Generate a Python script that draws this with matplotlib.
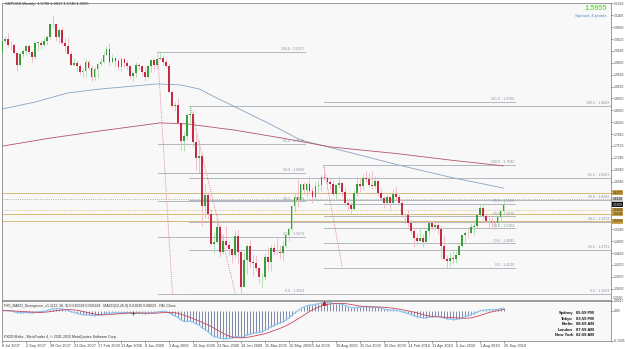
import matplotlib
matplotlib.use("Agg")
import matplotlib.pyplot as plt
import numpy as np
import pandas as pd
from matplotlib.patches import Rectangle

plt.rcParams['font.family'] = ['Liberation Sans', 'DejaVu Sans']

title_text = "GBPUSD,Weekly  1.5790 1.6017 1.5748 1.5955"
date_labels = ["8 Jul 2007", "2 Sep 2007", "28 Oct 2007", "23 Dec 2007", "17 Feb 2008",
               "13 Apr 2008", "8 Jun 2008", "3 Aug 2008", "28 Sep 2008", "23 Nov 2008",
               "18 Jan 2009", "15 Mar 2009", "10 May 2009", "5 Jul 2009", "30 Aug 2009",
               "25 Oct 2009", "20 Dec 2009", "14 Feb 2010", "11 Apr 2010", "6 Jun 2010",
               "1 Aug 2010", "26 Sep 2010"]
date_weeks = [0, 8, 16, 24, 32, 40, 48, 56, 64, 72, 80, 88, 96, 104, 112, 120, 128, 136, 144, 152, 160, 168]

opens = [2.0130, 2.0445, 2.0500, 2.0330, 2.0340, 2.0130, 1.9790, 2.0100, 2.0180, 2.0300,
         2.0140, 2.0000, 2.0400, 2.0400, 2.0350, 2.0450, 2.0550, 2.0900, 2.0910, 2.0560,
         2.0750, 2.0400, 2.0300, 2.0100, 1.9800, 1.9850, 1.9750, 1.9600, 1.9610, 1.9880,
         1.9700, 1.9470, 1.9670, 1.9810, 1.9860, 2.0070, 2.0240, 1.9880, 1.9990, 1.9900,
         1.9720, 1.9960, 1.9850, 1.9760, 1.9500, 1.9560, 1.9800, 1.9760, 1.9600, 1.9450,
         1.9760, 1.9930, 1.9790, 1.9950, 1.9980, 1.9880, 1.9770, 1.9040, 1.8650, 1.8690,
         1.8190, 1.7710, 1.7830, 1.8420, 1.8440, 1.7670, 1.7230, 1.7290, 1.5930, 1.6230,
         1.5700, 1.4880, 1.4940, 1.5340, 1.4650, 1.4960, 1.4850, 1.4750, 1.4560, 1.5090,
         1.4650, 1.3700, 1.4430, 1.4810, 1.4380, 1.4360, 1.4220, 1.3960, 1.3980, 1.4530,
         1.4380, 1.4770, 1.4660, 1.4650, 1.4630, 1.4820, 1.5130, 1.5290, 1.5910, 1.6170,
         1.6080, 1.6510, 1.6350, 1.6510, 1.6320, 1.6170, 1.6470, 1.6500, 1.6720, 1.6690,
         1.6570, 1.6520, 1.6240, 1.6490, 1.6560, 1.6310, 1.6010, 1.5940, 1.5830, 1.6280,
         1.6530, 1.6470, 1.6690, 1.6660, 1.6500, 1.6470, 1.6600, 1.6270, 1.6130, 1.5990,
         1.6160, 1.6000, 1.6260, 1.6170, 1.6000, 1.5660, 1.5680, 1.5450, 1.5230, 1.5050,
         1.4960, 1.5050, 1.4940, 1.5240, 1.5440, 1.5340, 1.5400, 1.5280, 1.4830, 1.4470,
         1.4400, 1.4500, 1.4450, 1.4560, 1.4820, 1.5110, 1.5180, 1.5170, 1.5330, 1.5370,
         1.5680, 1.5850, 1.5630, 1.5520, 1.5510, 1.5480, 1.5450, 1.5620, 1.5790]
highs = [2.0470, 2.0560, 2.0655, 2.0440, 2.0400, 2.0150, 2.0150, 2.0240, 2.0350, 2.0370,
         2.0180, 2.0420, 2.0460, 2.0480, 2.0520, 2.0600, 2.0930, 2.1161, 2.0950, 2.0800,
         2.0840, 2.0520, 2.0550, 2.0160, 1.9980, 1.9920, 1.9820, 1.9700, 1.9950, 1.9960,
         1.9780, 1.9720, 1.9830, 1.9980, 2.0170, 2.0310, 2.0400, 2.0090, 2.0000, 1.9990,
         2.0000, 2.0000, 1.9920, 1.9780, 1.9600, 1.9860, 1.9850, 1.9790, 1.9770, 1.9800,
         1.9960, 1.9980, 1.9960, 2.0157, 2.0050, 1.9990, 1.9850, 1.9080, 1.8780, 1.8880,
         1.8230, 1.7960, 1.8430, 1.8662, 1.8560, 1.7890, 1.7740, 1.7360, 1.6520, 1.6300,
         1.5840, 1.5180, 1.5590, 1.5400, 1.5150, 1.5380, 1.4970, 1.4760, 1.5250, 1.5280,
         1.4720, 1.4660, 1.4870, 1.4990, 1.4560, 1.4570, 1.4280, 1.4090, 1.4640, 1.4780,
         1.4860, 1.4870, 1.5050, 1.4840, 1.4950, 1.5190, 1.5330, 1.5950, 1.6260, 1.6660,
         1.6530, 1.6580, 1.6590, 1.6740, 1.6440, 1.6580, 1.6630, 1.6760, 1.7043, 1.6740,
         1.6680, 1.6620, 1.6510, 1.6740, 1.6590, 1.6440, 1.6080, 1.6060, 1.6370, 1.6740,
         1.6710, 1.6790, 1.6880, 1.6820, 1.6880, 1.6740, 1.6640, 1.6400, 1.6200, 1.6230,
         1.6160, 1.6390, 1.6460, 1.6260, 1.6110, 1.5700, 1.5820, 1.5560, 1.5350, 1.5160,
         1.5300, 1.5140, 1.5280, 1.5470, 1.5500, 1.5450, 1.5480, 1.5390, 1.5120, 1.4580,
         1.4650, 1.4730, 1.4680, 1.4880, 1.5130, 1.5230, 1.5300, 1.5440, 1.5500, 1.5700,
         1.5960, 1.5950, 1.5720, 1.5610, 1.5610, 1.5540, 1.5650, 1.5810, 1.6017]
lows = [2.0110, 2.0380, 2.0280, 2.0200, 2.0100, 1.9620, 1.9760, 2.0000, 2.0060, 2.0080,
        1.9880, 1.9960, 2.0160, 2.0240, 2.0280, 2.0330, 2.0500, 2.0800, 2.0450, 2.0400,
        2.0350, 2.0150, 2.0100, 1.9760, 1.9750, 1.9600, 1.9520, 1.9450, 1.9450, 1.9650,
        1.9340, 1.9380, 1.9440, 1.9750, 1.9850, 2.0050, 1.9800, 1.9840, 1.9740, 1.9640,
        1.9600, 1.9710, 1.9650, 1.9400, 1.9340, 1.9460, 1.9650, 1.9490, 1.9360, 1.9440,
        1.9600, 1.9660, 1.9670, 1.9940, 1.9790, 1.9720, 1.9020, 1.8600, 1.8530, 1.8150,
        1.7450, 1.7440, 1.7740, 1.8130, 1.7530, 1.6900, 1.6830, 1.5360, 1.5600, 1.5550,
        1.4850, 1.4640, 1.4930, 1.4530, 1.4600, 1.4800, 1.4570, 1.4360, 1.4480, 1.4320,
        1.3503, 1.3700, 1.4060, 1.4230, 1.4000, 1.4130, 1.3810, 1.3660, 1.3880, 1.4140,
        1.4140, 1.4560, 1.4600, 1.4470, 1.4410, 1.4760, 1.4960, 1.5250, 1.5750, 1.5890,
        1.6040, 1.6250, 1.6200, 1.6300, 1.6000, 1.6100, 1.6270, 1.6340, 1.6640, 1.6380,
        1.6380, 1.6200, 1.6080, 1.6410, 1.6200, 1.5930, 1.5820, 1.5700, 1.5800, 1.6200,
        1.6300, 1.6370, 1.6580, 1.6450, 1.6380, 1.6410, 1.6180, 1.6080, 1.5850, 1.5980,
        1.5830, 1.5980, 1.6080, 1.5940, 1.5620, 1.5420, 1.5350, 1.5160, 1.4780, 1.4850,
        1.4950, 1.4780, 1.4920, 1.5100, 1.5250, 1.5250, 1.5140, 1.4470, 1.4450, 1.4229,
        1.4260, 1.4320, 1.4340, 1.4550, 1.4790, 1.4930, 1.5030, 1.5160, 1.5130, 1.5320,
        1.5640, 1.5570, 1.5510, 1.5340, 1.5290, 1.5290, 1.5370, 1.5480, 1.5748]
closes = [2.0445, 2.0500, 2.0330, 2.0340, 2.0130, 1.9790, 2.0100, 2.0180, 2.0300, 2.0140,
          2.0000, 2.0400, 2.0400, 2.0350, 2.0450, 2.0550, 2.0900, 2.0910, 2.0560, 2.0750,
          2.0400, 2.0300, 2.0100, 1.9800, 1.9850, 1.9750, 1.9600, 1.9610, 1.9880, 1.9700,
          1.9470, 1.9670, 1.9810, 1.9860, 2.0070, 2.0240, 1.9880, 1.9990, 1.9900, 1.9720,
          1.9960, 1.9850, 1.9760, 1.9500, 1.9560, 1.9800, 1.9760, 1.9600, 1.9450, 1.9760,
          1.9930, 1.9790, 1.9950, 1.9980, 1.9880, 1.9770, 1.9040, 1.8650, 1.8690, 1.8190,
          1.7710, 1.7830, 1.8420, 1.8440, 1.7670, 1.7230, 1.7290, 1.5930, 1.6230, 1.5700,
          1.4880, 1.4940, 1.5340, 1.4650, 1.4960, 1.4850, 1.4750, 1.4560, 1.5090, 1.4650,
          1.3700, 1.4430, 1.4810, 1.4380, 1.4360, 1.4220, 1.3960, 1.3980, 1.4530, 1.4380,
          1.4770, 1.4660, 1.4650, 1.4630, 1.4820, 1.5130, 1.5290, 1.5910, 1.6170, 1.6080,
          1.6510, 1.6350, 1.6510, 1.6320, 1.6170, 1.6470, 1.6500, 1.6720, 1.6690, 1.6570,
          1.6520, 1.6240, 1.6490, 1.6560, 1.6310, 1.6010, 1.5940, 1.5830, 1.6280, 1.6530,
          1.6470, 1.6690, 1.6660, 1.6500, 1.6470, 1.6600, 1.6270, 1.6130, 1.5990, 1.6160,
          1.6000, 1.6260, 1.6170, 1.6000, 1.5660, 1.5680, 1.5450, 1.5230, 1.5050, 1.4960,
          1.5050, 1.4940, 1.5240, 1.5440, 1.5340, 1.5400, 1.5280, 1.4830, 1.4470, 1.4400,
          1.4500, 1.4450, 1.4560, 1.4820, 1.5110, 1.5180, 1.5170, 1.5330, 1.5370, 1.5680,
          1.5850, 1.5630, 1.5520, 1.5510, 1.5480, 1.5450, 1.5620, 1.5790, 1.5955]

ma_blue_weeks = [0, 11, 22, 33, 44, 52, 60, 66, 72, 78, 89, 100, 113, 133, 150, 168]
ma_blue = [1.858, 1.877, 1.902, 1.913, 1.921, 1.927, 1.924, 1.913, 1.888, 1.864, 1.820, 1.773,
           1.746, 1.704, 1.671, 1.641]
ma_red_weeks = [0, 16, 33, 53, 62, 78, 94, 110, 133, 150, 168]
ma_red = [1.756, 1.778, 1.798, 1.820, 1.817, 1.800, 1.778, 1.754, 1.735, 1.718, 1.702]

fib_levels = [0.0, 23.6, 38.2, 50.0, 61.8, 100.0]
fib_ext_levels = [0.0, 23.6, 38.2, 50.0, 61.8, 100.0, 161.8]
fib_sets = [
    # (high, low, start week, end week, anchor1 week, anchor2 week, levels)
    (2.0157, 1.3503, 52.1, 101.6, 52.1, 57.1, fib_levels),
    (1.8662, 1.3503, 62.5, 203.6, 63.1, 78.2, fib_levels),
    (1.7043, 1.4229, 107.7, 171.8, 107.7, 114.0, fib_ext_levels),
]

sr_prices = [1.6275, 1.6110, 1.5808, 1.5699, 1.5506]
sr_styles = ['-', ':', ':', '-', '-']
sr_colors = ['#d4b067', '#9a9a9a', '#d4b067', '#d4b067', '#d4b067']
box_prices = [1.6275, 1.6110, 1.5955, 1.5808, 1.5699, 1.5506]
box_kind = ['gold', 'gray', 'black', 'gold', 'gold', 'gold']

price_ticks = [2.1490, 2.1160, 2.0830, 2.0500, 2.0180, 1.9850, 1.9520, 1.9190, 1.8870, 1.8550,
               1.8220, 1.7890, 1.7570, 1.7240, 1.6910, 1.6580, 1.5280, 1.4950, 1.4620, 1.4300,
               1.3970, 1.3650]

div_up_weeks = [44]
div_up_vals = [-0.012]
div_dn_weeks = [108]
div_dn_vals = [0.032]

clock_cities = ["Sydney", "Tokyo", "Berlin", "London", "New York"]
clock_times = ["05:59 PM", "03:59 PM", "08:59 AM", "07:59 AM", "02:59 AM"]

W, H = 625, 349
fig = plt.figure(figsize=(W / 100, H / 100), dpi=100)
fig.patch.set_facecolor('white')

def fx(px):
    return px / W

def fy(py):
    return 1 - py / H

bg = '#f8f8f8'
ax = fig.add_axes([fx(2), fy(300), fx(611) - fx(2), fy(3) - fy(300)])
ax2 = fig.add_axes([fx(2), fy(341), fx(611) - fx(2), fy(301) - fy(341)], sharex=ax)
for a in (ax, ax2):
    a.set_facecolor(bg)
    for s in a.spines.values():
        s.set_color('#8a8a8a')
        s.set_linewidth(0.6)

x0, x1 = 0.27, 204.0
ax.set_xlim(x0, x1)
ax.set_ylim(1.3338, 2.1490)

n = len(closes)
weeks = np.arange(n)

# moving averages
ax.plot(ma_blue_weeks, ma_blue, color='#86a4c4', lw=0.6, zorder=2)
ax.plot(ma_red_weeks, ma_red, color='#b45468', lw=0.6, zorder=2)

# support / resistance lines
for p, ls, c in zip(sr_prices, sr_styles, sr_colors):
    ax.axhline(p, color=c, lw=0.6, ls=ls, zorder=1)

# fibonacci retracements
for hi, lo, xs, xe, a1, a2, lv in fib_sets:
    rng = hi - lo
    for l in lv:
        p = lo + rng * l / 100.0
        ax.plot([xs, xe], [p, p], color='#a7adb5', lw=0.6, zorder=1)
        ax.text(xe - 0.3, p + 0.002, f"{l:.1f} - {p:.4f}", fontsize=2.6, color='#8a96a6',
                ha='right', va='bottom', zorder=3)
    ax.plot([a1, a2], [hi, lo], color='#d0697a', lw=0.6, ls=(0, (1, 1.5)), zorder=2)

# candles
for i in range(n):
    o, h, l, c = opens[i], highs[i], lows[i], closes[i]
    up = c >= o
    wick = '#a9dca9' if up else '#f0b6c2'
    body = '#3a9d3a' if up else '#c42a44'
    ax.plot([i, i], [l, h], color=wick, lw=0.6, zorder=4, solid_capstyle='butt')
    ax.add_patch(Rectangle((i - 0.3, min(o, c)), 0.6, max(abs(c - o), 0.0008),
                           facecolor=body, edgecolor='none', zorder=5))

# right price axis
ax.yaxis.tick_right()
ax.set_yticks(price_ticks)
ax.set_yticklabels([f"{v:.4f}" for v in price_ticks])
ax.tick_params(axis='y', labelsize=2.4, length=1.2, width=0.4, pad=0.6, colors='#444444')
ax.tick_params(axis='x', bottom=False, labelbottom=False)

for p, k in zip(box_prices, box_kind):
    if k == 'gold':
        fc, tc = '#c9a24a', '#202020'
    elif k == 'gray':
        fc, tc = '#c8c8c8', '#202020'
    else:
        fc, tc = '#101010', '#ffffff'
    ax.text(1.0025, p, f"{p:.4f}", transform=ax.get_yaxis_transform(), fontsize=2.4,
            color=tc, ha='left', va='center', clip_on=False, zorder=6,
            bbox=dict(boxstyle='square,pad=0.15', fc=fc, ec='none'))
ax.text(1.0025, 1.3338, "1.3320", transform=ax.get_yaxis_transform(), fontsize=2.4,
        color='#444444', ha='left', va='bottom', clip_on=False)

# header texts
fig.text(fx(5), fy(4.5), title_text, fontsize=2.8, color='#333333', ha='left', va='center')
fig.text(fx(607), fy(9), "1.5955", fontsize=5.2, color='#6ee03a', fontweight='bold',
         ha='right', va='center')
fig.text(fx(607), fy(16), "Spread: 4 points", fontsize=3.2, color='#5a8ab8',
         ha='right', va='center')

# MACD panel
s = pd.Series(closes)
macd = (s.ewm(span=12, adjust=False).mean() - s.ewm(span=26, adjust=False).mean()).values
signal = pd.Series(macd).rolling(9, min_periods=1).mean().values
ax2.set_ylim(-0.1305, 0.0417)
ax2.vlines(weeks, 0, macd, color='#3a4a80', lw=0.45, zorder=2)
ax2.plot(weeks, macd, color='#8ec3ee', lw=0.9, zorder=3)
ax2.plot(weeks, signal, color='#c8485a', lw=0.6, zorder=4)
ax2.scatter(div_up_weeks, div_up_vals, marker='+', s=6, color='#2a7a2a', lw=0.6, zorder=5)
ax2.scatter(div_dn_weeks, div_dn_vals, marker='^', s=5, color='#c02030', zorder=5)

ax2.yaxis.tick_right()
ax2.set_yticks([0.0417, 0.0, -0.1305])
ax2.set_yticklabels(["0.0417", "0.00", "-0.1305"])
ax2.tick_params(axis='y', labelsize=2.4, length=1.2, width=0.4, pad=0.6, colors='#444444')
ax2.set_xticks(date_weeks)
ax2.set_xticklabels(date_labels, ha='left')
ax2.tick_params(axis='x', labelsize=2.8, length=1.5, width=0.4, pad=0.8, colors='#444444')

ax2.text(0.004, 0.93, "FX5_MACD_Divergence_v1.1(12, 26, 9) 0.010538 0.006228   MACD(12,26,9) 0.01030 0.00623   PAL Close",
         transform=ax2.transAxes, fontsize=2.6, color='#333333', ha='left', va='top')
ax2.text(0.004, 0.06, "FXDD Malta - MetaTrader 4, \u00a9 2001-2010 MetaQuotes Software Corp.",
         transform=ax2.transAxes, fontsize=2.6, color='#333333', ha='left', va='bottom')

for k, (c, t) in enumerate(zip(clock_cities, clock_times)):
    yy = 313 + k * 5.6
    fig.text(fx(573), fy(yy), c, fontsize=3.0, color='#111111', ha='right', va='center',
             fontweight='bold')
    fig.text(fx(576), fy(yy), t, fontsize=3.0, color='#111111', ha='left', va='center',
             fontweight='bold')

fig.savefig('out.png', dpi=100, facecolor='white')
